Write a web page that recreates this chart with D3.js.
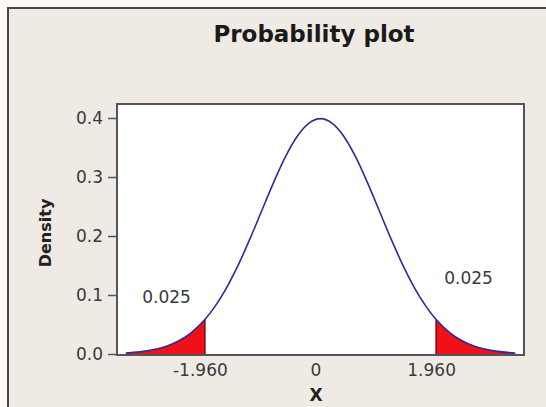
<!DOCTYPE html>
<html>
<head>
<meta charset="utf-8">
<script src="https://cdn.jsdelivr.net/npm/d3@7"></script>
<style>
  body { margin: 0; background: #fbfaf7; }
  svg { display: block; font-family: "DejaVu Sans", Verdana, sans-serif; }
</style>
</head>
<body>
<div id="chart"></div>
<script>
// standard normal density
var xs = [-3.3, -3.0, -2.8, -2.6, -2.4, -2.2, -1.96, -1.8, -1.6, -1.4, -1.2, -1.0, -0.8, -0.6, -0.4, -0.2, 0,
          0.2, 0.4, 0.6, 0.8, 1.0, 1.2, 1.4, 1.6, 1.8, 1.96, 2.2, 2.4, 2.6, 2.8, 3.0, 3.3];
var dens = [0.0017, 0.0044, 0.0079, 0.0136, 0.0224, 0.0355, 0.0584, 0.0790, 0.1109, 0.1497, 0.1942, 0.2420, 0.2897, 0.3332, 0.3683, 0.3910, 0.3989,
            0.3910, 0.3683, 0.3332, 0.2897, 0.2420, 0.1942, 0.1497, 0.1109, 0.0790, 0.0584, 0.0355, 0.0224, 0.0136, 0.0079, 0.0044, 0.0017];
var critical = [-1.960, 1.960];
var tailArea = ["0.025", "0.025"];
var xTicks = [-1.960, 0, 1.960];
var yTicks = [0.0, 0.1, 0.2, 0.3, 0.4];

var width = 546, height = 407;
var box = {left: 117, right: 524, top: 104, bottom: 355};

var svg = d3.select("#chart").append("svg").attr("width", width).attr("height", height);

// outer panel
svg.append("rect").attr("x", 8).attr("y", 8).attr("width", 600).attr("height", 500)
    .style("fill", "#efebe4").style("stroke", "#454545").style("stroke-width", 2);

var x = d3.scaleLinear().domain([-3.45, 3.45]).range([box.left, box.right]);
var y = d3.scaleLinear().domain([0, 0.4]).range([354, 118]);

svg.append("rect")
    .attr("x", box.left).attr("y", box.top)
    .attr("width", box.right - box.left).attr("height", box.bottom - box.top)
    .style("fill", "#fff");

var pts = xs.map((d, i) => ({x: d, y: dens[i]}));

var area = d3.area().x(d => x(d.x)).y0(y(0)).y1(d => y(d.y)).curve(d3.curveMonotoneX);
var line = d3.line().x(d => x(d.x)).y(d => y(d.y)).curve(d3.curveMonotoneX);

// shaded tails
svg.append("path").datum(pts.filter(d => d.x <= critical[0]))
    .attr("d", area).style("fill", "#f01018");
svg.append("path").datum(pts.filter(d => d.x >= critical[1]))
    .attr("d", area).style("fill", "#f01018");

critical.forEach(c => {
    var yy = dens[xs.indexOf(c)];
    svg.append("line")
        .attr("x1", x(c)).attr("x2", x(c)).attr("y1", y(0)).attr("y2", y(yy))
        .style("stroke", "#7a0a10").style("stroke-width", 1.5);
});

svg.append("path").datum(pts).attr("d", line)
    .style("fill", "none").style("stroke", "#2b2b9c").style("stroke-width", 1.6);

// plot frame
svg.append("rect")
    .attr("x", box.left).attr("y", box.top)
    .attr("width", box.right - box.left).attr("height", box.bottom - box.top)
    .style("fill", "none").style("stroke", "#555").style("stroke-width", 2);

// y axis
var yAxis = svg.append("g").attr("transform", "translate(" + box.left + ",0)")
    .call(d3.axisLeft(y).tickValues(yTicks).tickFormat(d3.format(".1f")).tickSize(9).tickPadding(5));
yAxis.select(".domain").remove();
yAxis.selectAll("line").style("stroke", "#555").style("stroke-width", 1.5);
yAxis.selectAll("text").style("font-size", "17px").style("fill", "#3a3a3a").style("font-family", "DejaVu Sans");

// x axis (labels only), plain hyphen for the minus sign
var xAxis = svg.append("g").attr("transform", "translate(0," + box.bottom + ")")
    .call(d3.axisBottom(x).tickValues(xTicks)
        .tickFormat(d => d === 0 ? "0" : (d < 0 ? "-" : "") + Math.abs(d).toFixed(3))
        .tickSize(0).tickPadding(9));
xAxis.select(".domain").remove();
xAxis.selectAll("text").attr("dx", -5).style("font-size", "17px").style("fill", "#3a3a3a").style("font-family", "DejaVu Sans");

// tail area labels
svg.append("text").attr("x", x(-2.61)).attr("y", y(0.086)).attr("text-anchor", "middle")
    .style("font-size", "17px").style("fill", "#3a3a3a").text(tailArea[0]);
svg.append("text").attr("x", x(2.51)).attr("y", y(0.119)).attr("text-anchor", "middle")
    .style("font-size", "17px").style("fill", "#3a3a3a").text(tailArea[1]);

// titles
svg.append("text").attr("x", 314).attr("y", 42).attr("text-anchor", "middle")
    .style("font-size", "23px").style("font-weight", "bold").style("fill", "#1a1a1a").text("Probability plot");
svg.append("text").attr("x", 316).attr("y", 401).attr("text-anchor", "middle")
    .style("font-size", "17px").style("font-weight", "bold").style("fill", "#222").text("X");
svg.append("text").attr("transform", "translate(51,233) rotate(-90)").attr("text-anchor", "middle")
    .style("font-size", "16px").style("font-weight", "bold").style("fill", "#222").text("Density");
</script>
</body>
</html>
